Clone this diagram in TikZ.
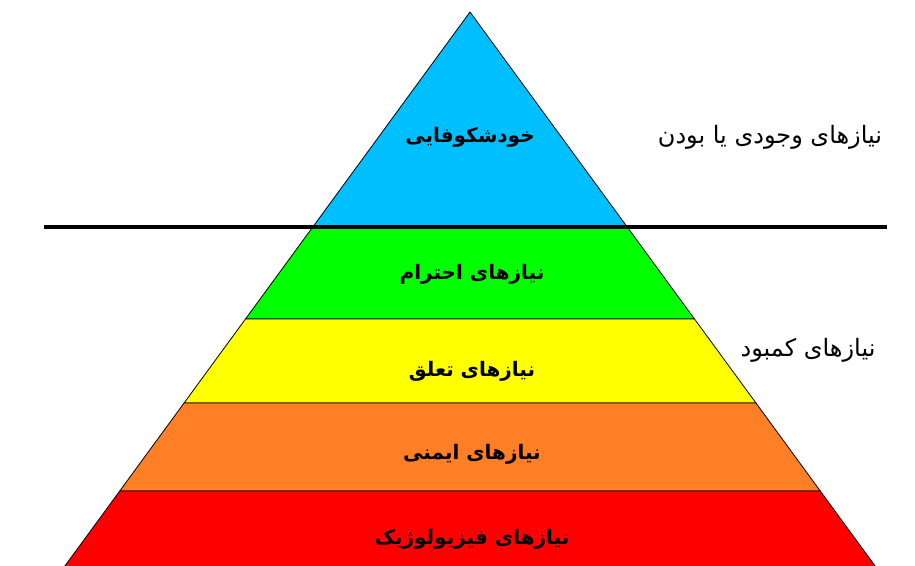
\documentclass[tikz,border=0pt]{standalone}
\usepackage{fontspec}
\newfontfamily\arabicfont[Script=Arabic]{DejaVu Sans}
\TeXXeTstate=1
\definecolor{skyband}{RGB}{0,191,255}
\definecolor{limeband}{RGB}{0,255,0}
\definecolor{yellowband}{RGB}{255,255,0}
\definecolor{orangeband}{RGB}{255,127,39}
\definecolor{redband}{RGB}{255,0,0}
\begin{document}
\begin{tikzpicture}[x=1pt, y=-1pt,
		level/.style={font=\arabicfont\bfseries\fontsize{20}{24}\selectfont},
		side/.style={font=\arabicfont\fontsize{24}{28}\selectfont}
	]
	\useasboundingbox (0,0) rectangle (915,565);
	\clip (0,0) rectangle (915,565);

	% bands of the pyramid, apex at (470,12)
	\foreach \ya/\yb/\col in {12/227/skyband, 227/319/limeband, 319/403/yellowband, 403/491/orangeband, 491/620/redband}{
		\filldraw[fill=\col, draw=black, line width=0.8pt]
			({470-0.7313*(\ya-12)},\ya) -- ({470+0.7313*(\ya-12)},\ya) --
			({470+0.7313*(\yb-12)},\yb) -- ({470-0.7313*(\yb-12)},\yb) -- cycle;
	}

	\draw[line width=4.5pt] (44,227) -- (887,227);

	\node[level] at (470,137) (selfact) {\beginR خودشکوفایی\endR};
	\node[level] at (472,274) (esteem) {\beginR نیازهای احترام\endR};
	\node[level] at (472,371) (belong) {\beginR نیازهای تعلق\endR};
	\node[level] at (472,454) (safety) {\beginR نیازهای ایمنی\endR};
	\node[level] at (472,539) (physio) {\beginR نیازهای فیزیولوژیک\endR};

	\node[side] at (770,137) (being) {\beginR نیازهای وجودی یا بودن\endR};
	\node[side] at (808,350) (deficit) {\beginR نیازهای کمبود\endR};

\end{tikzpicture}
\end{document}
